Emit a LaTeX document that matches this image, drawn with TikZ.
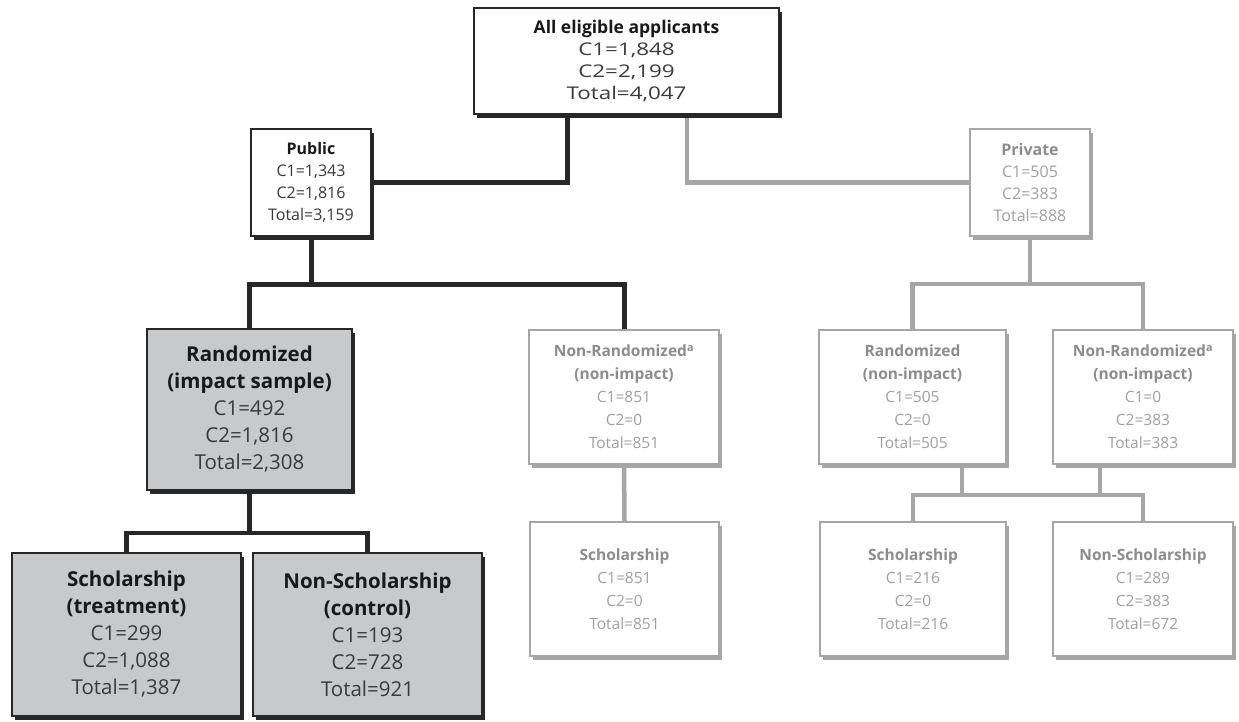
\documentclass[tikz,border=0pt]{standalone}
\usepackage{fontspec}
\setmainfont{Open Sans}
\newfontfamily\widefont{Open Sans}[FakeStretch=1.28]
\usetikzlibrary{shadows,backgrounds}
\definecolor{dk}{HTML}{272727}
\definecolor{lg}{HTML}{A6A6A6}
\definecolor{fillg}{HTML}{C8C9CB}
\definecolor{numc}{HTML}{3A3A3A}
\definecolor{ftxt}{HTML}{A0A0A0}
\definecolor{ftitle}{HTML}{8C8C8C}
\newcommand\ttl[1]{{\rmfamily\bfseries\color{black!90}#1}}
\newcommand\fttl[1]{{\bfseries\color{ftitle}#1}}
\begin{document}
\begin{tikzpicture}[x=1pt,y=-1pt,
  every node/.style={inner sep=0pt, align=center},
  sbox/.style={rectangle, draw=dk, line width=1.6pt, fill=white, text=numc,
    general shadow={fill=dk, shadow xshift=3pt, shadow yshift=-4pt}},
  gbox/.style={sbox, fill=fillg, font=\fontsize{20.5}{27}\selectfont},
  fbox/.style={rectangle, draw=lg, line width=1.3pt, fill=white, text=ftxt,
    general shadow={fill=lg, shadow xshift=2.5pt, shadow yshift=-4pt},
    font=\fontsize{15.5}{23}\selectfont},
  dline/.style={draw=dk, line width=5pt, line cap=rect},
  gline/.style={draw=lg, line width=4.5pt, line cap=rect}]
\useasboundingbox (0,0) rectangle (1239,721);

% top row
\node[sbox, minimum width=305pt, minimum height=106pt, font=\widefont\fontsize{17.5}{22}\selectfont] (all) at (626.5,61)
  {\ttl{All eligible applicants}\\C1=1,848\\C2=2,199\\Total=4,047};
\node[sbox, minimum width=120pt, minimum height=107pt, font=\fontsize{16}{22}\selectfont] (pub) at (311,182.5)
  {\ttl{Public}\\C1=1,343\\C2=1,816\\Total=3,159};
\node[fbox, minimum width=120pt, minimum height=107pt, font=\fontsize{16}{22}\selectfont] (priv) at (1030,182.5)
  {\fttl{Private}\\C1=505\\C2=383\\Total=888};

% second row
\node[gbox, minimum width=205pt, minimum height=161pt] (rand) at (249.5,409.5)
  {\ttl{Randomized}\\\ttl{(impact sample)}\\C1=492\\C2=1,816\\Total=2,308};
\node[fbox, minimum width=190pt, minimum height=134pt] (pnr) at (624,397)
  {\fttl{Non-Randomized\textsuperscript{a}}\\\fttl{(non-impact)}\\C1=851\\C2=0\\Total=851};
\node[fbox, minimum width=187pt, minimum height=134pt] (prand) at (912.5,397)
  {\fttl{Randomized}\\\fttl{(non-impact)}\\C1=505\\C2=0\\Total=505};
\node[fbox, minimum width=180pt, minimum height=134pt] (pnrp) at (1143,397)
  {\fttl{Non-Randomized\textsuperscript{a}}\\\fttl{(non-impact)}\\C1=0\\C2=383\\Total=383};

% third row
\node[gbox, minimum width=229pt, minimum height=163pt] (treat) at (126.5,634.5)
  {\ttl{Scholarship}\\\ttl{(treatment)}\\C1=299\\C2=1,088\\Total=1,387};
\node[gbox, minimum width=229pt, minimum height=163pt] (ctrl) at (367.5,634.5)
  {\ttl{Non-Scholarship}\\\ttl{(control)}\\C1=193\\C2=728\\Total=921};
\node[fbox, minimum width=189pt, minimum height=134pt] (psch) at (624.5,589)
  {\fttl{Scholarship}\\C1=851\\C2=0\\Total=851};
\node[fbox, minimum width=186pt, minimum height=134pt] (psch2) at (913,589)
  {\fttl{Scholarship}\\C1=216\\C2=0\\Total=216};
\node[fbox, minimum width=180pt, minimum height=134pt] (pnsch) at (1143,589)
  {\fttl{Non-Scholarship}\\C1=289\\C2=383\\Total=672};

\begin{scope}[on background layer]
\coordinate (xa) at (567,0);
\coordinate (xb) at (687,0);
\coordinate (xc) at (962,0);
\coordinate (xd) at (1100,0);
\coordinate (h1) at (0,284);
\coordinate (h2) at (0,533);
\coordinate (h3) at (0,495);
\draw[dline] (all.south -| xa) |- (pub.east);
\draw[gline] (all.south -| xb) |- (priv.west);
\draw[dline] (pub.south) -- (pub.south |- h1);
\draw[dline] (rand.north) |- (pnr.north |- h1) -- (pnr.north);
\draw[gline] (priv.south) -- (priv.south |- h1);
\draw[gline] (prand.north) |- (pnrp.north |- h1) -- (pnrp.north);
\draw[dline, line width=4.5pt] (rand.south) -- (rand.south |- h2);
\draw[dline, line width=4.5pt] (treat.north) |- (ctrl.north |- h2) -- (ctrl.north);
\draw[gline] (pnr.south) -- (psch.north);
\draw[gline] (prand.south -| xc) -- (xc |- h3);
\draw[gline] (pnrp.south -| xd) -- (xd |- h3);
\draw[gline] (psch2.north) |- (pnsch.north |- h3) -- (pnsch.north);
\end{scope}
\end{tikzpicture}
\end{document}
